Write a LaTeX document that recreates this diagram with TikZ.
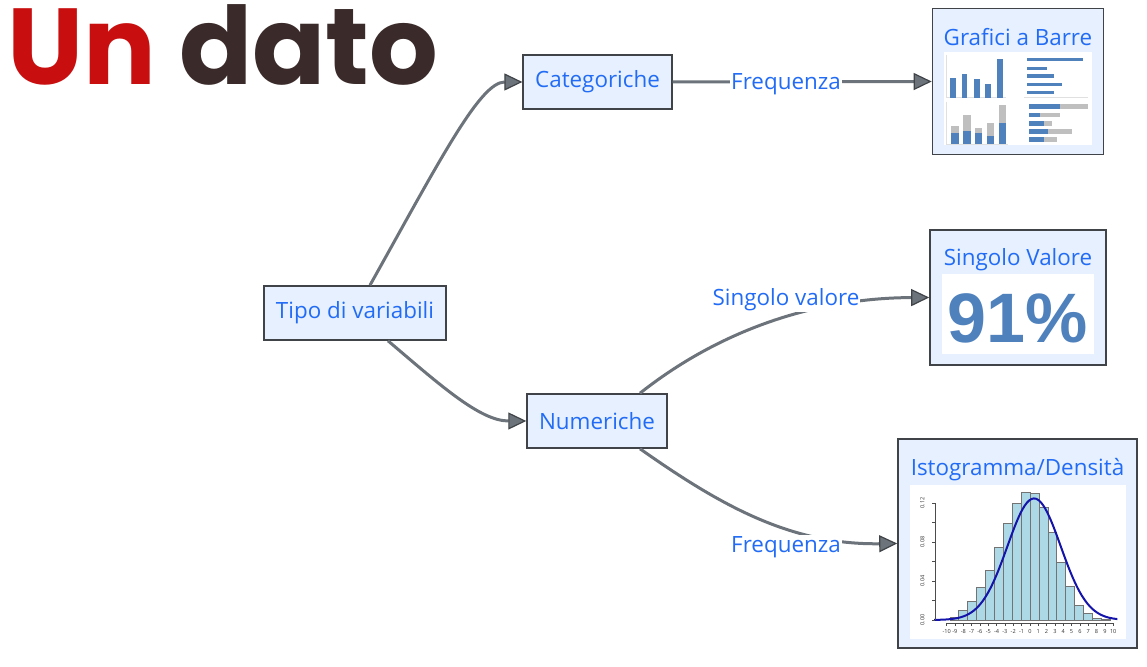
\documentclass[tikz,border=0pt]{standalone}
\usepackage{fontspec}
\setmainfont{Open Sans}
\newfontfamily\titlefont{Poppins}
\newfontfamily\numfont{Liberation Sans}
\usetikzlibrary{arrows.meta}

\definecolor{boxfill}{RGB}{230,240,255}
\definecolor{boxline}{RGB}{64,68,72}
\definecolor{textblue}{RGB}{34,108,245}
\definecolor{linkgray}{RGB}{108,115,122}
\definecolor{titlered}{RGB}{200,14,14}
\definecolor{titledark}{RGB}{58,42,42}
\definecolor{barblue}{RGB}{79,129,189}
\definecolor{bargray}{RGB}{191,191,191}
\definecolor{histfill}{RGB}{173,216,230}
\definecolor{curveblue}{RGB}{20,20,170}

\tikzstyle{every node}=[font=\fontsize{11.2}{13}\selectfont, text=textblue]
\tikzstyle{box}=[draw=boxline, fill=boxfill, line width=0.8pt, inner xsep=6pt, minimum height=27pt]
\tikzstyle{imgbox}=[box, inner sep=0pt]
\tikzstyle{lbl}=[fill=white, inner sep=0.5pt]
\tikzstyle{link}=[draw=linkgray, line width=1.5pt, -{Triangle[length=9pt,width=8.5pt,color=boxline,fill=linkgray,line width=0.6pt]}]
\tikzstyle{histbar}=[fill=histfill, draw=black!55, line width=0.4pt]
\tikzstyle{curve}=[draw=curveblue, line width=1pt]
\tikzstyle{axis}=[draw=black!70, line width=0.3pt]
\tikzstyle{tick}=[font=\fontsize{2.8}{3}\selectfont, text=black!80, inner sep=0.3pt]

\begin{document}
\begin{tikzpicture}[x=0.5pt, y=-0.5pt]
    \useasboundingbox (0,0) rectangle (1147,667);

    % titolo
    \node [anchor=base west, inner sep=0pt, font=\titlefont\bfseries\fontsize{54}{54}\selectfont] (titolo) at (7,85)
        {\textcolor{titlered}{Un} \textcolor{titledark}{dato}};

    % nodi
    \node [box] (tipo) at (355,313) {Tipo di variabili};
    \node [box] (cat) at (597.5,82) {Categoriche};
    \node [box] (num) at (597,421) {Numeriche};

    \node [imgbox, minimum width=85.5pt, minimum height=73pt] (barre) at (1018,81.5) {};
    \node [imgbox, minimum width=88pt, minimum height=67.5pt] (singolo) at (1018,297.5) {};
    \node [imgbox, minimum width=119.5pt, minimum height=104.5pt] (isto) at (1017.5,543.5) {};

    \node (barretit) at (1018,37) {Grafici a Barre};
    \node (singolotit) at (1018,260) {Singolo Valore};
    \node (istotit) at (1017.5,470) {Istogramma/Densità};

    \fill [white] (944,52) rectangle (1092,145);
    \fill [white] (942,274) rectangle (1094,354);
    \fill [white] (910,485) rectangle (1126,639);

    % grafici a barre
    \draw [black!12, line width=0.3pt] (946.7,55) |- (1006,97.7);
    \draw [black!12, line width=0.3pt] (946.7,102) |- (1008,144.3);
    \draw [black!12, line width=0.3pt] (1024,97.7) -- (1088,97.7);
    \foreach \x/\t in {950/78.3, 961.7/74, 974/78.7, 985.3/83.7, 997.3/59.3}
        \fill [barblue] (\x,97.7) rectangle ({\x+5.7},\t);
    \foreach \y/\e in {57.7/1082.7, 66.7/1047.3, 74.3/1054, 82.7/1061.7, 91/1054.3}
        \fill [barblue] (1026.7,\y) rectangle (\e,{\y+3.3});
    \foreach \x/\b/\g in {951/133.3/125.7, 963/131/115, 974.7/133.3/128.3, 986.7/136/123.3, 998.7/123/105} {
        \fill [bargray] (\x,\b) rectangle ({\x+7.7},\g);
        \fill [barblue] (\x,144.3) rectangle ({\x+7.7},\b);
    }
    \foreach \y/\b/\g in {104.3/1060/1088, 112.7/1040/1060, 121/1044.3/1052.3, 129/1048.3/1072.3, 137.3/1044.3/1056.7} {
        \fill [bargray] (\b,\y) rectangle (\g,{\y+4.8});
        \fill [barblue] (1028.7,\y) rectangle (\b,{\y+4.8});
    }

    % singolo valore
    \node [font=\numfont\bfseries\fontsize{35}{35}\selectfont, text=barblue] (valore) at (1018,318) {91\%};

    % istogramma
    \begin{scope}[shift={(1029.9,620)}, x=4.165pt, y=487.5pt]
        \foreach \h [count=\i from 0] in {0.003,0.010,0.019,0.033,0.051,0.074,0.099,0.120,0.131,0.130,0.115,0.090,0.059,0.034,0.015,0.007,0.002,0.001}
            \draw [histbar] ({-9.6+1.07*\i},0) rectangle ({-8.53+1.07*\i},\h);
        \draw [curve] plot [domain=-11.5:10.5, samples=80, smooth] (\x,{exp(-((\x-0.5)^2)/20.48)/8.021});
        \draw [axis] (-11.4,0) -- (-11.4,0.12);
        \foreach \v in {0,0.02,0.04,0.06,0.08,0.1,0.12}
            \draw [axis] (-11.4,\v) -- (-11.8,\v);
        \foreach \v in {0.00,0.04,0.08,0.12}
            \node [tick, rotate=90] at (-12.9,\v) {\v};
        \draw [axis] (-10,-0.0034) -- (10,-0.0034);
        \foreach \n in {-10,...,10} {
            \draw [axis] (\n,-0.0034) -- (\n,-0.006);
            \node [tick] at (\n,-0.012) {\n};
        }
    \end{scope}

    % collegamenti
    \draw [link] ([xshift=7.5pt]tipo.north) .. controls (440,160) and (480,82) .. (cat.west);
    \draw [link] ([xshift=16.5pt]tipo.south) .. controls (440,385) and (480,421) .. (num.west);
    \draw [link] (cat.east) -- (barre.west);
    \draw [link] ([xshift=21.5pt]num.north) .. controls (720,330) and (815,298) .. (singolo.west);
    \draw [link] ([xshift=21.5pt]num.south) .. controls (720,505) and (790,545) .. (isto.west);

    \node [lbl] (freq1) at (786,84) {Frequenza};
    \node [lbl] (singval) at (786,300) {Singolo valore};
    \node [lbl] (freq2) at (786,547) {Frequenza};
\end{tikzpicture}
\end{document}
